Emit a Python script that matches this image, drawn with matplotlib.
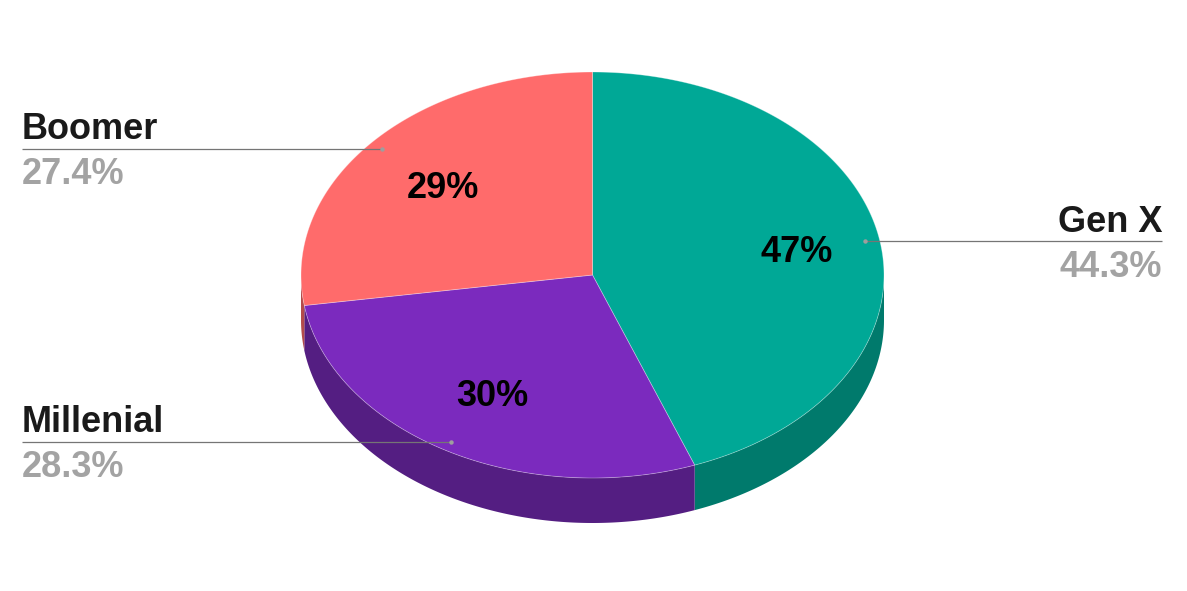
import numpy as np
import matplotlib.pyplot as plt
from matplotlib.patches import Polygon

plt.rcParams['font.family'] = ['Liberation Sans', 'DejaVu Sans']

# data (clockwise from 12 o'clock)
labels = ['Gen X', 'Millenial', 'Boomer']
shares = [44.3, 28.3, 27.4]
inner_labels = ['47%', '30%', '29%']
top_colors = ['#00A896', '#7B2ABE', '#FF6B6B']
side_colors = ['#007A6C', '#541E82', '#B34B4B']

W, H = 1187, 591
fig = plt.figure(figsize=(W / 100, H / 100), dpi=100)
ax = fig.add_axes([0, 0, 1, 1])
ax.set_xlim(0, W)
ax.set_ylim(H, 0)
ax.axis('off')

# ellipse geometry in pixels
cx, cy, rx, ry, depth = 592.5, 275, 291.5, 203, 45


def pt(t, dy=0):
    return cx + rx * np.sin(t), cy - ry * np.cos(t) + dy


bounds = np.concatenate([[0], np.cumsum(shares)]) / sum(shares) * 2 * np.pi

# side walls (front half only)
for i in range(len(shares)):
    a, b = max(bounds[i], np.pi / 2), min(bounds[i + 1], 1.5 * np.pi)
    if b <= a:
        continue
    t = np.linspace(a, b, 200)
    xs, ys = pt(t)
    xb, yb = pt(t[::-1], depth)
    poly = np.column_stack([np.concatenate([xs, xb]), np.concatenate([ys, yb])])
    ax.add_patch(Polygon(poly, closed=True, facecolor=side_colors[i], edgecolor='none'))

# top face
for i in range(len(shares)):
    t = np.linspace(bounds[i], bounds[i + 1], 300)
    xs, ys = pt(t)
    poly = np.column_stack([np.concatenate([[cx], xs]), np.concatenate([[cy], ys])])
    ax.add_patch(Polygon(poly, closed=True, facecolor=top_colors[i],
                         edgecolor=(1, 1, 1, 0.35), linewidth=0.6, joinstyle='round'))

# inner labels
inner_pos = [(797, 252), (492, 397), (443, 189)]
for (x, y), s in zip(inner_pos, inner_labels):
    ax.text(x, y, s, fontsize=26, fontweight='bold', color='black', ha='center', va='center')

# outer labels with leader lines
line_c = '#757575'
outer = [
    # index, line y, line x0, x1, dot x, text x, ha, name baseline, pct baseline
    (0, 241, 865, 1162, 865, 1162, 'right', 232, 277),
    (1, 442, 22, 451, 451, 22, 'left', 432, 477),
    (2, 149, 22, 382, 382, 22, 'left', 139, 184),
]
for i, ly, x0, x1, dx, tx, ha, nb, pb in outer:
    ax.plot([x0, x1], [ly, ly], color=line_c, lw=0.9, solid_capstyle='butt')
    ax.plot(dx, ly, 'o', color='#9E9E9E', ms=3.2, mec='none')
    ax.text(tx, nb, labels[i], fontsize=26, fontweight='bold', color='#1A1A1A',
            ha=ha, va='baseline')
    ax.text(tx, pb, f'{shares[i]:.1f}%', fontsize=26, fontweight='bold', color='#A3A3A3',
            ha=ha, va='baseline')

fig.savefig('out.png', dpi=100)
